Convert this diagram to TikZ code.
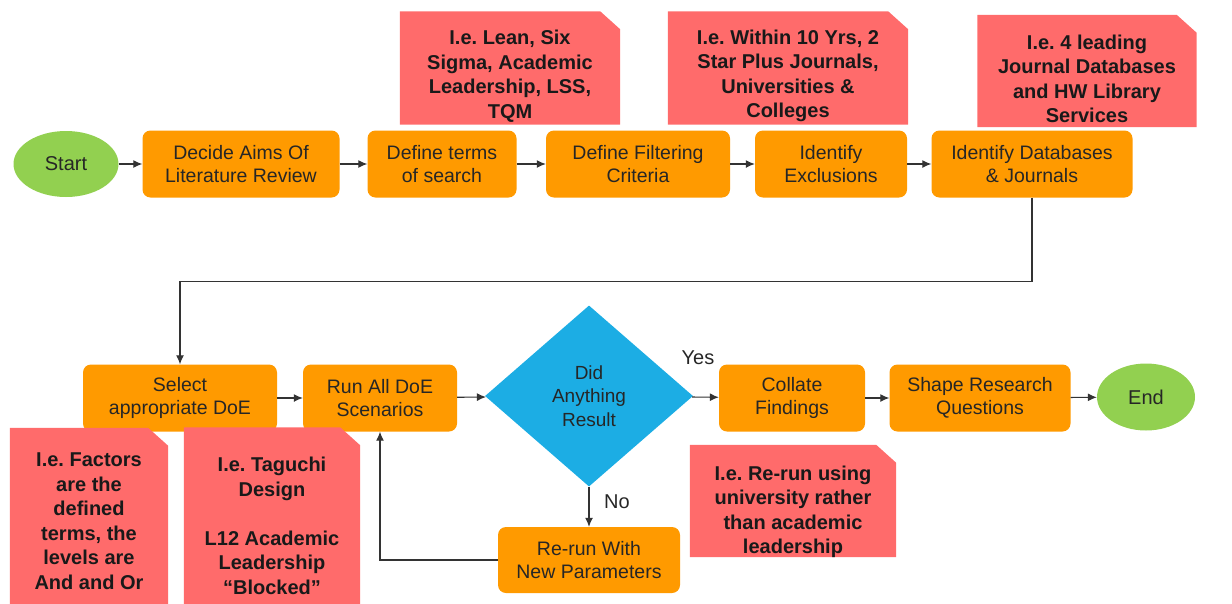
\documentclass[tikz,border=0pt]{standalone}
\usepackage{fontspec}
\setmainfont{Liberation Sans}
\usetikzlibrary{arrows.meta,shapes.geometric}
\definecolor{procorange}{HTML}{FF9A00}
\definecolor{termgreen}{HTML}{92D050}
\definecolor{notered}{HTML}{FF6B6B}
\definecolor{decblue}{HTML}{1CADE4}
\frenchspacing

\begin{document}
\begin{tikzpicture}[x=1pt,y=-1pt,
  proc/.style={fill=procorange, rounded corners=8pt, minimum height=67pt,
    align=center, text=black!85, font=\fontsize{19.5}{23}\selectfont},
  term/.style={ellipse, fill=termgreen, minimum height=66pt,
    text=black!85, font=\fontsize{20}{23}\selectfont},
  notebox/.style={rectangle, inner sep=0pt},
  notetext/.style={align=center, inner sep=0pt, text=black!90,
    font=\bfseries\fontsize{20}{24.5}\selectfont},
  arr/.style={draw=black!80, line width=1.1pt, -{Latex[length=9pt,width=8pt]}},
  lbl/.style={font=\fontsize{20}{24}\selectfont, text=black!85}]
  \useasboundingbox (0,0) rectangle (1232,603);

  % top row
  \node[term, minimum width=105pt] (start) at (66,164) {Start};
  \foreach \nm/\x/\w/\txt in
    {aims/241/197/{Decide Aims Of\\Literature Review},
     terms/442/149/{Define terms\\of search},
     filt/638/184/{Define Filtering\\Criteria},
     excl/831/152/{Identify\\Exclusions},
     dbs/1032/201/{Identify Databases\\\& Journals}} {
    \node[proc, minimum width=\w pt] (\nm) at (\x,164) {\txt};
  }

  % bottom row
  \foreach \nm/\x/\w/\txt in
    {sel/180/194/{Select\\appropriate DoE},
     run/380/154/{Run All DoE\\Scenarios},
     coll/792/146/{Collate\\Findings},
     shape/980/181/{Shape Research\\Questions}} {
    \node[proc, minimum width=\w pt] (\nm) at (\x,398) {\txt};
  }
  \node[diamond, fill=decblue, minimum width=208pt, minimum height=181pt,
    inner sep=0pt, align=center, text=black!85,
    font=\fontsize{19}{23.5}\selectfont] (dec) at (589,396) {Did\\Anything\\Result};
  \node[term, minimum width=98pt, minimum height=67pt] (end) at (1146,397) {End};
  \node[proc, minimum width=182pt, minimum height=66pt] (rerun) at (589,560)
    {Re-run With\\New Parameters};

  % notes: box with a cut corner, then its text
  \foreach \nm/\x/\y/\w/\h/\ty/\txt in
    {n1/510/68/220/113/76/{I.e. Lean, Six\\Sigma, Academic\\Leadership, LSS,\\TQM},
     n2/788/68/240/113/76/{I.e. Within 10 Yrs, 2\\Star Plus Journals,\\Universities \&\\Colleges},
     n3/1087/71/219/112/79/{I.e. 4 leading\\Journal Databases\\and HW Library\\Services},
     n4/89/521/158/186/521/{I.e. Factors\\are the\\defined\\terms, the\\levels are\\And and Or},
     n5/272/526/176/197/526/{I.e. Taguchi\\Design\\[24.5pt]L12 Academic\\Leadership\\“Blocked”},
     n6/793/501/206/112/512/{I.e. Re-run using\\university rather\\than academic\\leadership}} {
    \node[notebox, minimum width=\w pt, minimum height=\h pt] (\nm) at (\x,\y) {};
    \fill[notered] (\nm.south west) |- ([xshift=-20pt]\nm.north east)
      -- ([yshift=-18pt]\nm.north east) |- (\nm.south west) -- cycle;
    \node[notetext] (\nm t) at (\x,\ty) {\txt};
  }

  % connectors
  \foreach \a/\b in {start/aims, aims/terms, terms/filt, filt/excl, excl/dbs,
                     sel/run, run/dec, dec/coll, coll/shape, shape/end}
    \draw[arr] (\a) -- (\b);
  \draw[arr] (dbs.south) -- ++(0,84) -| (sel.north);
  \draw[arr] (dec.south) -- (rerun.north);
  \draw[arr] (rerun.west) -| (run.south);
  \node[lbl] (yes) at (698,358) {Yes};
  \node[lbl] (no) at (617,502) {No};
\end{tikzpicture}
\end{document}
